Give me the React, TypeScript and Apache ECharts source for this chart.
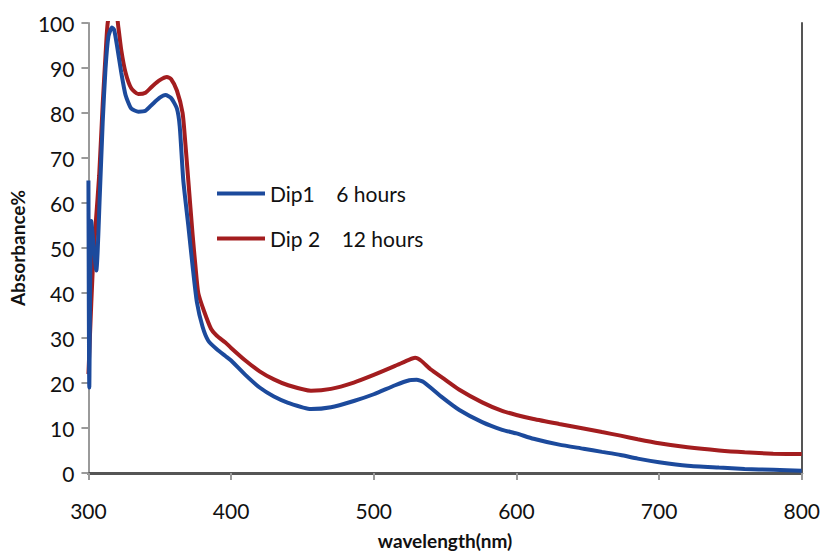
import React, { useEffect, useRef } from "react";
import * as echarts from "echarts";

const dip1Wavelength = [300, 300.6, 302, 305.5, 308, 310, 312, 314, 316.5, 318, 320, 323, 326, 330, 335, 340, 345, 350, 354, 358, 362, 364, 366.5, 370, 373, 376, 380, 384, 390, 396, 400, 410, 420, 430, 440, 456, 470, 486, 500, 515, 525, 530, 535, 548, 560, 576, 590, 600, 612, 630, 647, 660, 673, 685, 700, 720, 742, 760, 780, 800];
const dip1Values = [65, 19, 56, 45, 62, 78, 90, 97, 99, 98.5, 95, 89, 84, 81, 80.3, 80.5, 82, 83.4, 84, 83.3, 81, 77, 65, 55, 46, 38, 32.5, 29.4, 27.5, 26, 25, 21.8, 19.0, 17.0, 15.6, 14.2, 14.6, 16, 17.5, 19.5, 20.6, 20.7, 20.2, 16.8, 14, 11.3, 9.6, 8.8, 7.6, 6.3, 5.4, 4.7, 4.0, 3.2, 2.4, 1.6, 1.2, 0.9, 0.7, 0.5];

const dip2Wavelength = [300, 301, 303, 305, 307.5, 310, 312, 313.5, 316, 319, 321, 323, 326, 330, 335, 340, 345, 350, 355, 358, 362, 366, 368, 370, 373, 375, 377, 381, 386, 390, 396, 400, 410, 420, 430, 440, 456, 470, 486, 500, 515, 525, 529, 533, 540, 548, 560, 576, 590, 600, 612, 630, 647, 660, 673, 685, 700, 720, 742, 760, 780, 800];
const dip2Values = [22, 30, 45, 55, 66, 82, 93, 100, 103, 103, 99, 94, 89, 85.5, 84.2, 84.5, 86, 87.3, 88, 87.5, 85, 80, 73, 65, 53, 46, 40, 36, 32, 30.5, 29, 27.8, 25, 22.6, 20.8, 19.5, 18.3, 18.7, 20.1, 21.8, 23.8, 25.2, 25.6, 25, 23, 21.2, 18.5, 15.7, 13.8, 12.9, 12.0, 10.9, 9.9, 9.1, 8.3, 7.5, 6.6, 5.7, 5.0, 4.6, 4.3, 4.2];

const seriesNames = ["Dip1    6 hours", "Dip 2    12 hours"];
const seriesColors = ["#1c4a9c", "#a31d1f"];

const FONT = "Lato, 'Open Sans', sans-serif";

export default function App() {
  const ref = useRef<HTMLDivElement>(null);
  useEffect(() => {
    if (!ref.current) return;
    const chart = echarts.init(ref.current, null, { renderer: "svg" });
    const pairs = (xs: number[], ys: number[]) => xs.map((x, i) => [x, ys[i]]);
    chart.setOption({
      animation: false,
      backgroundColor: "#ffffff",
      grid: { left: 82, right: 19, top: 23, bottom: 79 },
      legend: {
        orient: "vertical",
        left: 212,
        top: 178,
        icon: "rect",
        itemWidth: 48,
        itemHeight: 4,
        itemGap: 24,
        textStyle: { fontFamily: FONT, fontSize: 21, color: "#111" },
        data: seriesNames,
      },
      xAxis: [
        {
          type: "value",
          min: 300,
          max: 800,
          interval: 100,
          name: "wavelength(nm)",
          nameLocation: "middle",
          nameGap: 58,
          nameTextStyle: { fontFamily: FONT, fontSize: 19, fontWeight: "bold", color: "#111" },
          axisLine: { show: true, lineStyle: { color: "#9a9a9a", width: 2 } },
          axisTick: { show: true, inside: false, length: 7, lineStyle: { color: "#9a9a9a", width: 2 } },
          axisLabel: { margin: 27, fontFamily: FONT, fontSize: 21, color: "#111" },
          splitLine: { show: false },
        },
        {
          type: "value",
          position: "top",
          min: 300,
          max: 800,
          interval: 100,
          axisLine: { show: true, lineStyle: { color: "#555", width: 3 } },
          axisTick: { show: false },
          axisLabel: { show: false },
          splitLine: { show: false },
        },
      ],
      yAxis: [
        {
          type: "value",
          min: 0,
          max: 100,
          interval: 10,
          name: "Absorbance%",
          nameLocation: "middle",
          nameGap: 56,
          nameRotate: 90,
          nameTextStyle: { fontFamily: FONT, fontSize: 19, fontWeight: "bold", color: "#111" },
          axisLine: { show: true, lineStyle: { color: "#9a9a9a", width: 2 } },
          axisTick: { show: true, inside: false, length: 7, lineStyle: { color: "#9a9a9a", width: 2 } },
          axisLabel: { margin: 14, fontFamily: FONT, fontSize: 21, color: "#111" },
          splitLine: { show: false },
        },
        {
          type: "value",
          position: "right",
          min: 0,
          max: 100,
          interval: 10,
          axisLine: { show: true, lineStyle: { color: "#555", width: 2 } },
          axisTick: { show: false },
          axisLabel: { show: false },
          splitLine: { show: false },
        },
      ],
      series: [
        {
          name: seriesNames[0],
          type: "line",
          data: pairs(dip1Wavelength, dip1Values),
          showSymbol: false,
          smooth: 0.2,
          clip: true,
          color: seriesColors[0],
          lineStyle: { width: 4, color: seriesColors[0] },
          z: 3,
        },
        {
          name: seriesNames[1],
          type: "line",
          data: pairs(dip2Wavelength, dip2Values),
          showSymbol: false,
          smooth: 0.2,
          clip: true,
          color: seriesColors[1],
          lineStyle: { width: 4, color: seriesColors[1] },
          z: 2,
        },
      ],
    });
    return () => chart.dispose();
  }, []);
  return (
    <div
      ref={ref}
      style={{ position: "fixed", left: 0, top: 0, width: 823, height: 555, background: "#fff" }}
    />
  );
}
